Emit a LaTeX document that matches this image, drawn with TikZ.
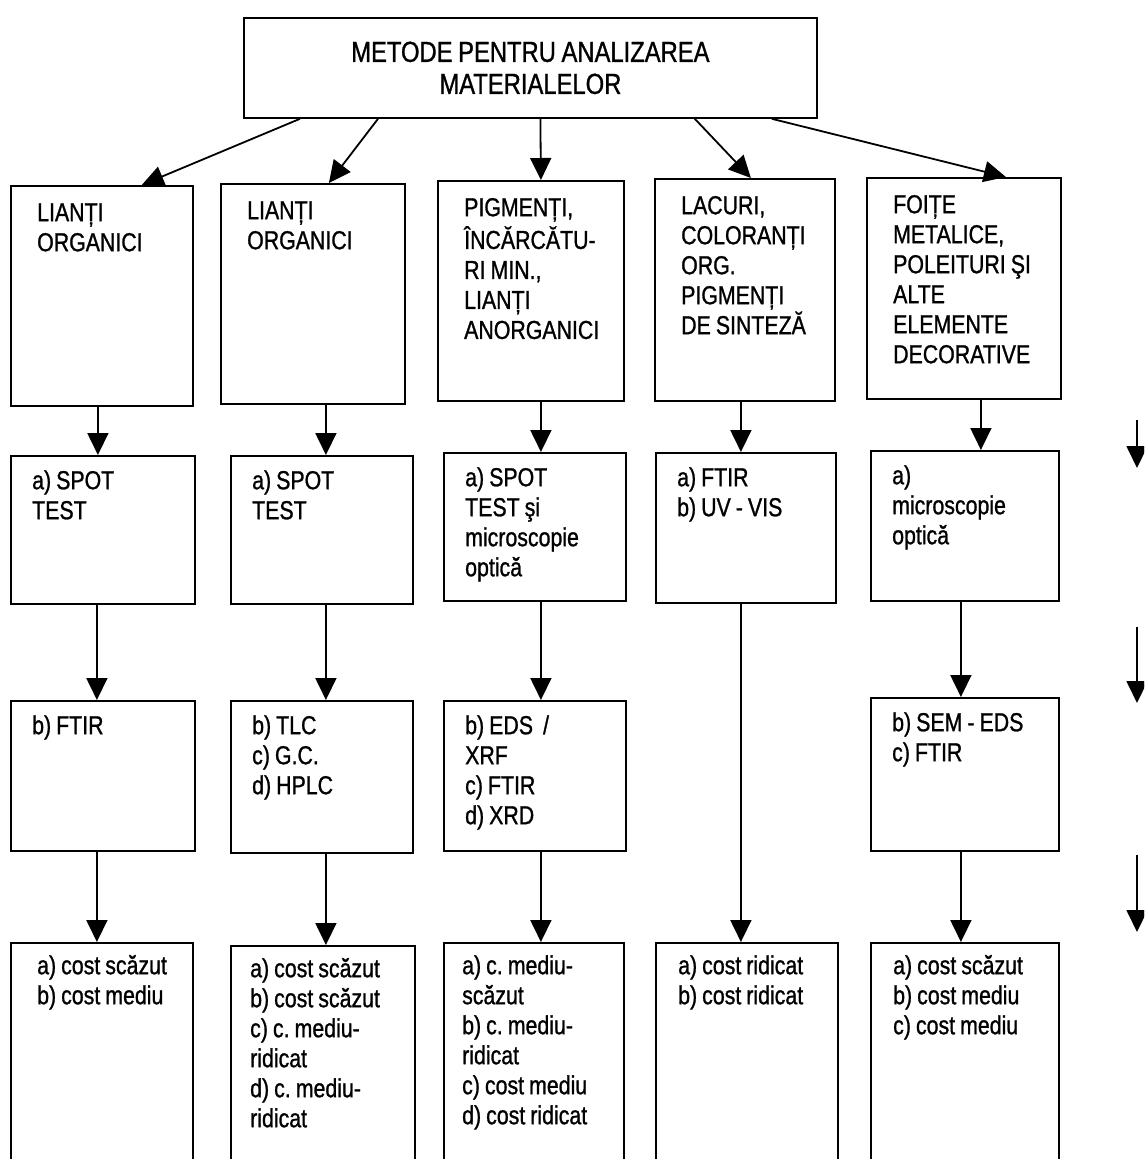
\documentclass[tikz,border=0pt]{standalone}
\usepackage{fontspec}
\setmainfont[FakeStretch=0.82,WordSpace={0.85,0,0},FakeBold=1]{Liberation Sans}
\usetikzlibrary{arrows.meta}
\tikzset{
	cutie/.style={draw,line width=1.8pt,anchor=north west,inner sep=0pt},
	scris/.style={anchor=north west,align=left,inner sep=0pt,
		font=\fontsize{26}{30}\selectfont},
	sag/.style={line width=1.8pt,-{Triangle[length=22pt,width=21pt]}},
}
\begin{document}
\begin{tikzpicture}[x=1pt,y=-1pt]
			\clip (0,0) rectangle (1144,1159);
			\node[cutie,minimum width=573pt,minimum height=100pt] (M) at (243,17) {};
			\node[align=center,inner sep=0pt,font=\fontsize{29}{32}\selectfont] (Mt) at (M.center) {METODE PENTRU ANALIZAREA\\MATERIALELOR};
			% randul 1
			\foreach \c/\x/\y/\w/\h/\t in {
				a/10/185/182/220/{LIANȚI\\ORGANICI},
				b/220/183/184/220/{LIANȚI\\ORGANICI},
				c/437/180/186/220/{PIGMENȚI,\\ÎNCĂRCĂTU-\\RI MIN.,\\LIANȚI\\ANORGANICI},
				d/654/178/180/222/{LACURI,\\COLORANȚI\\ORG.\\PIGMENȚI\\DE SINTEZĂ},
				e/866/177/194/221/{FOIȚE\\METALICE,\\POLEITURI ŞI\\ALTE\\ELEMENTE\\DECORATIVE}}
			{\node[cutie,minimum width=\w pt,minimum height=\h pt] (r1\c) at (\x,\y) {};
			\node[scris] (t1\c) at ([xshift=27pt,yshift=-15pt]r1\c.north west) {\strut\t};}
			% randul 2
			\foreach \c/\x/\y/\w/\h/\t in {
				a/10/455/184/148/{a) SPOT\\TEST},
				b/230/455/182/148/{a) SPOT\\TEST},
				c/443/452/182/148/{a) SPOT\\TEST şi\\microscopie\\optică},
				d/655/452/180/150/{a) FTIR\\b) UV - VIS},
				e/870/450/188/150/{a)\\microscopie\\optică}}
			{\node[cutie,minimum width=\w pt,minimum height=\h pt] (r2\c) at (\x,\y) {};
			\node[scris] (t2\c) at ([xshift=22pt,yshift=-13pt]r2\c.north west) {\strut\t};}
			% randul 3
			\foreach \c/\x/\y/\w/\h/\t in {
				a/10/700/184/150/{b) FTIR},
				b/230/700/182/152/{b) TLC\\c) G.C.\\d) HPLC},
				c/443/700/182/150/{b) EDS~~/\\XRF\\c) FTIR\\d) XRD},
				e/870/697/188/153/{b) SEM - EDS\\c) FTIR}}
			{\node[cutie,minimum width=\w pt,minimum height=\h pt] (r3\c) at (\x,\y) {};
			\node[scris] (t3\c) at ([xshift=22pt,yshift=-13pt]r3\c.north west) {\strut\t};}
			% randul 4
			\foreach \c/\x/\y/\w/\h/\t/\d in {
				a/10/942/182/250/{a) cost scăzut\\b) cost mediu}/27,
				b/230/945/184/250/{a) cost scăzut\\b) cost scăzut\\c) c.\ mediu-\\ridicat\\d) c.\ mediu-\\ridicat}/20,
				c/443/942/180/250/{a) c.\ mediu-\\scăzut\\b) c.\ mediu-\\ridicat\\c) cost mediu\\d) cost ridicat}/19,
				d/655/942/182/250/{a) cost ridicat\\b) cost ridicat}/23,
				e/870/942/188/250/{a) cost scăzut\\b) cost mediu\\c) cost mediu}/23}
			{\node[cutie,minimum width=\w pt,minimum height=\h pt] (r4\c) at (\x,\y) {};
			\node[scris] (t4\c) at ([xshift=\d pt,yshift=-11pt]r4\c.north west) {\strut\t};}
			% sageti
			\draw[sag] ([xshift=57pt]M.south west) -- ([xshift=-52pt]r1a.north east);
			\draw[sag] ([xshift=135pt]M.south west) -- ([xshift=16pt]r1b.north);
			\draw[sag] ([xshift=10pt]M.south) -- ([xshift=10pt]r1c.north);
			\draw[sag] ([xshift=-123pt]M.south east) -- ([xshift=6pt]r1d.north);
			\draw[sag] ([xshift=-46pt]M.south east) -- ([xshift=42pt]r1e.north);
			\foreach \c/\s in {a/-4,b/13,c/10,d/-4,e/17}
			\draw[sag] ([xshift=\s pt]r1\c.south) -- ([xshift=\s pt]r1\c.south |- r2\c.north);
			\foreach \c/\s in {a/-6,b/4,c/6,e/-4}
			{\draw[sag] ([xshift=\s pt]r2\c.south) -- ([xshift=\s pt]r2\c.south |- r3\c.north);
			\draw[sag] ([xshift=\s pt]r3\c.south) -- ([xshift=\s pt]r3\c.south |- r4\c.north);}
			\draw[sag] ([xshift=-5pt]r2d.south) -- ([xshift=-5pt]r2d.south |- r4d.north);
			% sagetile din dreapta
			\path (1137,420) coordinate (P1) (1137,468) coordinate (Q1)
			(1137,627) coordinate (P2) (1137,703) coordinate (Q2)
			(1137,855) coordinate (P3) (1137,932) coordinate (Q3);
			\foreach \i in {1,2,3} \draw[sag] (P\i) -- (Q\i);
		\end{tikzpicture}
\end{document}
